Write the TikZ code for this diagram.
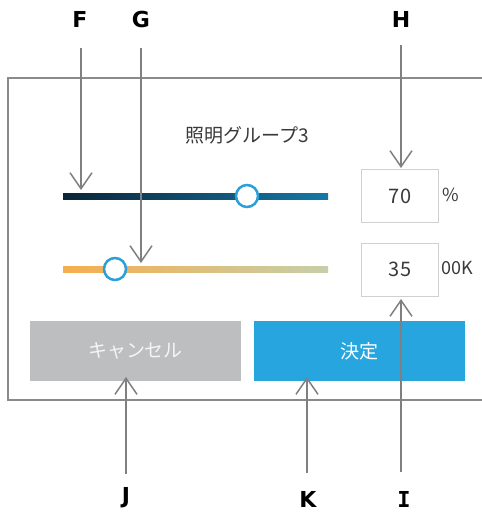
\documentclass[tikz,border=0pt]{standalone}
\usepackage{fontspec}
\setmainfont{Noto Sans CJK JP}
\newfontfamily\lblfont{DejaVu Sans}
\newfontfamily\lblmono{DejaVu Sans Mono}
\usetikzlibrary{arrows.meta}
\definecolor{framegray}{HTML}{8A8A8A}
\definecolor{arrgray}{HTML}{808080}
\definecolor{titlegray}{HTML}{3A3A3A}
\definecolor{boxgray}{HTML}{D0D0D0}
\definecolor{knobblue}{HTML}{2B9FD9}
\definecolor{sOneL}{HTML}{0B2438}
\definecolor{sOneR}{HTML}{1479A6}
\definecolor{sTwoL}{HTML}{F6AE4E}
\definecolor{sTwoR}{HTML}{C5CFAA}
\definecolor{cancelgray}{HTML}{BDBEC0}
\definecolor{decideblue}{HTML}{27A5DF}
\tikzset{
  callout/.style={font=\lblfont\bfseries\fontsize{22}{24}\selectfont, text=black, inner sep=0pt},
  arr/.style={draw=arrgray, line width=1.5pt, -{Straight Barb[length=16pt,width=22pt,line width=1.5pt]}},
  valbox/.style={draw=boxgray, line width=1pt, fill=white, minimum width=77pt, minimum height=53pt, inner sep=0pt, font=\fontsize{20}{22}\selectfont, text=titlegray},
  unit/.style={font=\fontsize{18}{20}\selectfont, text=titlegray, inner sep=0pt, anchor=west},
  knob/.style={circle, draw=knobblue, line width=2.5pt, fill=white, minimum size=22pt, inner sep=0pt},
  btn/.style={minimum width=211pt, minimum height=60pt, inner sep=0pt, text=white, font=\fontsize{19}{22}\selectfont},
}
\begin{document}
\begin{tikzpicture}[x=1pt,y=-1pt]
\useasboundingbox (0,0) rectangle (482,512);
\clip (0,0) rectangle (482,512);
\fill[white] (0,0) rectangle (482,512);
% frame
\draw[framegray, line width=1.5pt] (495,78) -- (8,78) -- (8,400) -- (495,400);
% title
\node[font=\fontsize{19}{22}\selectfont, text=titlegray, inner sep=0pt] (title) at (247,135) {照明グループ3};
% sliders
\shade[left color=sOneL, right color=sOneR] (63,193) rectangle (328,199);
\shade[left color=sTwoL, right color=sTwoR] (63,266) rectangle (328,272);
\node[knob] (knobA) at (247,196) {};
\node[knob] (knobB) at (115,269) {};
% value boxes
\node[valbox] (boxA) at (400,196) {70};
\node[valbox] (boxB) at (400,269.5) {35};
\node[unit] (pct) at (442,195) {\%};
\node[unit] (kel) at (441.5,268.5) {00K};
% buttons
\node[btn, fill=cancelgray, text=white!92!gray] (cancel) at (135.5,351) {キャンセル};
\node[btn, fill=decideblue] (decide) at (359.5,351) {決定};
% callout labels
\node[callout] (F) at (80,19) {F};
\node[callout] (G) at (141,19) {G};
\node[callout] (H) at (401,19) {H};
\node[callout] (J) at (126,498) {J};
\node[callout] (K) at (308,499) {K};
\node[callout, font=\lblmono\bfseries\fontsize{22}{24}\selectfont] (I) at (404,499) {I};
% connector points
\coordinate (fs) at (81,48);  \coordinate (ft) at (81,190);
\coordinate (gs) at (141,48); \coordinate (gt) at (141,263);
\coordinate (hs) at (401,45); \coordinate (ht) at (401,168);
\coordinate (is) at (401,472); \coordinate (it) at (401,299);
\coordinate (js) at (126,474); \coordinate (jt) at (126,377);
\coordinate (ks) at (307,473); \coordinate (kt) at (307,377);
\draw[arr] (fs) -- (ft);
\draw[arr] (gs) -- (gt);
\draw[arr] (hs) -- (ht);
\draw[arr] (is) -- (it);
\draw[arr] (js) -- (jt);
\draw[arr] (ks) -- (kt);
\end{tikzpicture}
\end{document}
